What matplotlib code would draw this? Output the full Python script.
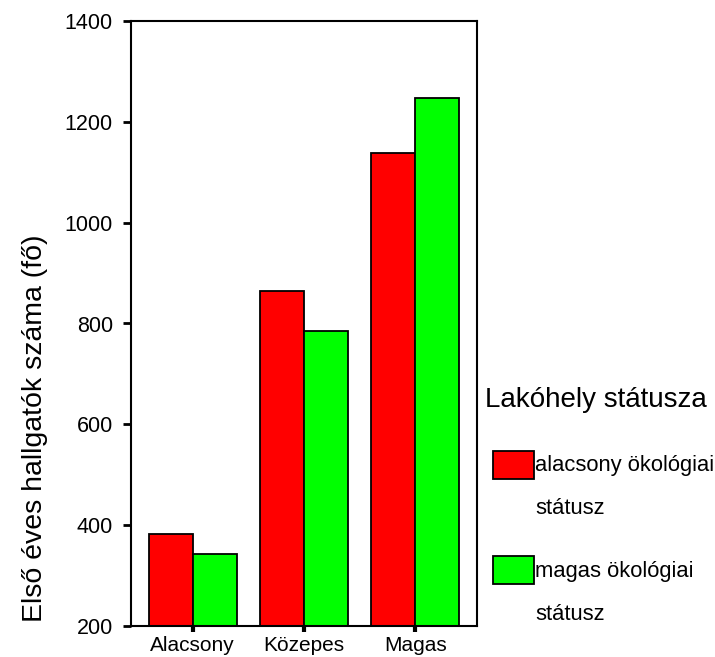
import matplotlib
matplotlib.use("Agg")
import matplotlib.pyplot as plt
from matplotlib.patches import Rectangle
import numpy as np

categories = ["Alacsony", "Közepes", "Magas"]
series_names = ["alacsony ökológiai\nstátusz", "magas ökológiai\nstátusz"]
low_status = [383, 864, 1139]
high_status = [342, 785, 1247]
colors = ["#ff0000", "#00ff00"]
y_ticks = [200, 400, 600, 800, 1000, 1200, 1400]

plt.rcParams["font.family"] = ["Liberation Sans", "DejaVu Sans"]

fig = plt.figure(figsize=(7.15, 6.57), dpi=100)
ax = fig.add_axes([131 / 715, 1 - 626 / 657, 346 / 715, (626 - 21) / 657])

x = np.arange(len(categories))
w = 0.395
ax.bar(x - w / 2, low_status, w, bottom=0, color=colors[0], edgecolor="black", linewidth=1.3)
ax.bar(x + w / 2, high_status, w, bottom=0, color=colors[1], edgecolor="black", linewidth=1.3)

ax.set_xlim(-0.555, 2.555)
ax.set_ylim(200, 1400)
ax.set_yticks(y_ticks)
ax.set_xticks(x)
ax.set_xticklabels(categories)
ax.tick_params(axis="y", length=6, width=2, pad=7, labelsize=15.5)
ax.tick_params(axis="x", length=4, width=3, pad=3, labelsize=15)
for s in ax.spines.values():
    s.set_linewidth(1.5)

W, H = 715, 657
# y label sits lower than the axes centre in the original
fig.text(35 / W, 1 - 428 / H, "Első éves hallgatók száma (fő)", fontsize=20.5,
         rotation=90, va="center", ha="center")

# legend drawn by hand to mimic the original layout
fig.text(485 / W, 1 - 400 / H, "Lakóhely státusza", fontsize=20, va="center", ha="left")
box_tops = [451, 556]
for i, name in enumerate(series_names):
    top = box_tops[i]
    fig.add_artist(Rectangle((493 / W, 1 - (top + 28) / H), 41 / W, 28 / H,
                             transform=fig.transFigure, facecolor=colors[i],
                             edgecolor="black", linewidth=1.3))
    first, second = name.split("\n")
    fig.text(535 / W, 1 - (top + 15) / H, first, fontsize=15.8, va="center", ha="left")
    fig.text(535 / W, 1 - (top + 58) / H, second, fontsize=15.8, va="center", ha="left")

fig.savefig("out.png", dpi=100)
